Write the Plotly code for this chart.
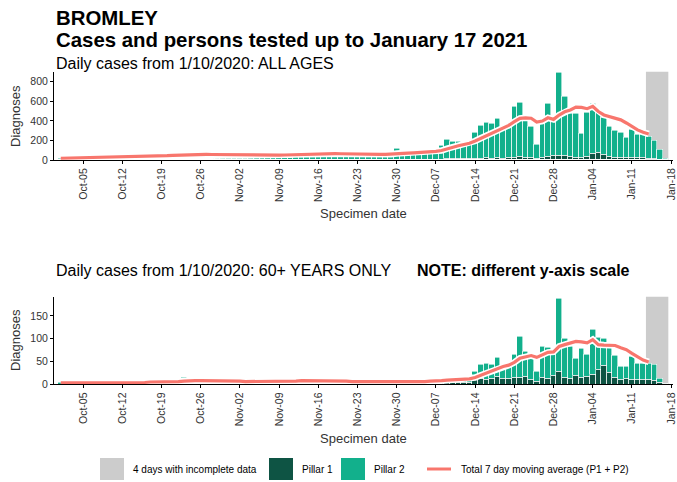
import pandas as pd
import plotly.graph_objects as go

# ---------------- data ----------------
dates = pd.date_range("2020-10-01", "2021-01-17", freq="D")
incomplete_days = pd.date_range("2021-01-14", "2021-01-17", freq="D")
tick_dates = pd.date_range("2020-10-05", "2021-01-18", freq="7D")
tick_labels = [d.strftime("%b-%d") for d in tick_dates]

# ALL AGES
all_p1 = [2,3,2,2,3,3,2,3,3,2,2,3,3,4,3,4,3,3,4,4,5,5,4,4,4,5,5,4,4,4,3,
          3,4,4,3,4,4,3,3,4,5,4,5,5,4,5,6,5,5,5,4,4,4,4,5,4,5,5,4,5,6,
          5,5,6,6,5,6,7,8,10,9,10,9,10,15,18,20,18,22,18,20,28,32,25,22,12,28,38,48,45,48,30,
          28,22,38,60,70,50,35,28,22,20,22,20,20,18,15,8,2]
all_p2 = [13,15,12,14,19,22,22,25,27,24,22,27,32,34,33,36,32,31,38,48,50,53,56,51,50,57,55,52,48,46,42,
          37,41,44,41,42,46,42,39,51,53,52,57,60,56,57,66,65,63,60,54,48,46,51,53,50,55,57,54,55,112,
          70,67,79,76,73,79,93,142,195,179,178,161,170,260,329,362,350,403,312,330,512,553,395,318,141,372,540,377,845,600,440,
          442,245,447,520,425,382,310,267,253,205,288,235,235,222,185,102,16]
all_ma = [18,19,20,21,22,23,24,25,26,27,28,30,32,34,36,37,38,39,41,44,47,50,52,53,54,56,57,56,55,53,51,
          49,48,47,46,46,46,46,47,49,51,53,55,58,60,62,64,66,67,66,64,62,60,58,56,56,56,57,58,59,66,
          68,70,73,76,78,82,88,97,115,131,146,158,171,194,222,247,273,307,330,354,392,426,431,427,388,398,431,415,459,492,511,
          540,537,524,548,495,460,445,425,410,378,342,308,283,266]

# 60+ YEARS
old_p1 = [0,1,1,0,1,1,0,1,1,1,0,1,1,1,1,1,1,1,2,1,2,1,2,1,2,1,2,2,1,2,1,
          1,1,2,1,1,1,2,1,2,1,2,2,2,1,2,2,2,1,1,1,1,1,1,1,1,1,1,1,1,2,
          1,2,2,1,2,2,3,3,3,3,4,3,4,10,13,10,13,17,13,13,15,15,17,10,6,15,13,18,28,15,13,
          18,15,17,22,32,40,25,15,10,12,10,10,11,10,8,3,1]
old_p2 = [3,1,3,3,1,3,3,1,2,3,3,1,3,4,3,5,4,5,5,5,6,6,13,5,6,6,6,7,5,5,4,
          5,4,4,6,4,5,5,4,10,5,5,6,7,7,7,8,6,6,5,4,3,4,3,4,5,4,5,4,5,5,
          5,5,6,5,5,7,7,8,10,9,10,10,11,18,30,35,31,41,26,28,50,90,55,51,22,67,67,52,159,85,69,
          39,63,47,97,71,60,55,48,28,26,51,36,34,35,34,10,1]
old_ma = [3,3,3,3,3,3,3,3,3,3,3,3,3,4,4,4,5,5,5,6,6,6,7,8,8,8,8,8,8,8,7,
          7,7,6,6,6,6,6,6,7,7,7,7,8,8,8,8,8,8,8,7,7,6,6,6,5,5,5,5,5,6,
          6,6,6,6,6,7,7,8,9,10,11,11,12,15,20,24,29,35,39,42,48,57,60,63,59,65,70,71,83,87,90,
          94,93,91,98,87,86,86,85,80,76,68,60,53,49]

ma_dates = dates[:len(all_ma)]

# ---------------- style ----------------
FONT = "Liberation Sans, Arial, sans-serif"
C_P1 = "#0E5444"
C_P2 = "#12B08C"
C_MA = "#F8766D"
C_GREY = "#CCCCCC"
W, H = 677, 482
L_PX, R_PX = 54, 673


def py(px):
    return 1 - px / H


def pxx(px):
    return (px - L_PX) / (R_PX - L_PX)


fig = go.Figure()

day_ms = 86400000
for xa, ya, p1, p2, ma in (("x", "y", all_p1, all_p2, all_ma),
                           ("x2", "y2", old_p1, old_p2, old_ma)):
    fig.add_trace(go.Bar(x=dates, y=p1, width=day_ms, marker=dict(color=C_P1, line=dict(color="white", width=0.6)),
                         xaxis=xa, yaxis=ya, showlegend=False, name="Pillar 1"))
    fig.add_trace(go.Bar(x=dates, y=p2, width=day_ms, marker=dict(color=C_P2, line=dict(color="white", width=0.6)),
                         xaxis=xa, yaxis=ya, showlegend=False, name="Pillar 2"))
    fig.add_trace(go.Scatter(x=ma_dates, y=ma, mode="lines", line=dict(color="white", width=6.5),
                             xaxis=xa, yaxis=ya, showlegend=False, hoverinfo="skip"))
    fig.add_trace(go.Scatter(x=ma_dates, y=ma, mode="lines", line=dict(color=C_MA, width=3.2),
                             xaxis=xa, yaxis=ya, showlegend=False, name="7 day average"))

# incomplete data shading
half = pd.Timedelta(hours=12)
for xr, yr in (("x", "y domain"), ("x2", "y2 domain")):
    fig.add_shape(type="rect", xref=xr, yref=yr, x0=incomplete_days[0] - half, x1=incomplete_days[-1] + half,
                  y0=0, y1=1, fillcolor=C_GREY, line=dict(width=0), layer="below")

x_range = [pd.Timestamp("2020-09-29 19:00"), pd.Timestamp("2021-01-18 08:00")]
xcommon = dict(type="date", range=x_range, tickmode="array", tickvals=tick_dates, ticktext=tick_labels,
               tickangle=-90, tickfont=dict(size=10.5, color="#333333", family=FONT), showline=True,
               linecolor="black", linewidth=1, ticks="outside", ticklen=3, tickcolor="black",
               showgrid=False, zeroline=False, automargin=False)
ycommon = dict(showline=True, linecolor="black", linewidth=1, ticks="outside", ticklen=3, tickcolor="black",
               showgrid=False, zeroline=False, automargin=False,
               tickfont=dict(size=10.5, color="#333333", family=FONT))

fig.update_layout(
    width=W, height=H, margin=dict(l=L_PX, r=W - R_PX, t=0, b=0, autoexpand=False),
    paper_bgcolor="white", plot_bgcolor="white", barmode="stack", bargap=0,
    font=dict(family=FONT, color="black"),
    xaxis=dict(domain=[0, 1], anchor="y", **xcommon),
    yaxis=dict(domain=[py(160), py(71.7)], anchor="x", range=[0, 902], tickvals=[0, 200, 400, 600, 800], **ycommon),
    xaxis2=dict(domain=[0, 1], anchor="y2", **xcommon),
    yaxis2=dict(domain=[py(384.3), py(296.7)], anchor="x2", range=[0, 192], tickvals=[0, 50, 100, 150], **ycommon),
)

ann = []


def text(x, y, s, size, anchor="left", angle=0, color="black"):
    ann.append(dict(xref="paper", yref="paper", x=x, y=y, text=s, showarrow=False, xanchor=anchor,
                    yanchor="middle", textangle=angle, font=dict(size=size, color=color, family=FONT)))


text(pxx(54), py(18), "<b>BROMLEY</b>", 20.4)
text(pxx(54), py(40), "<b>Cases and persons tested up to January 17 2021</b>", 20.4)
text(pxx(54), py(64), "Daily cases from 1/10/2020: ALL AGES", 16)
text(pxx(54), py(270), "Daily cases from 1/10/2020: 60+ YEARS ONLY", 16)
text(pxx(415), py(270), "<b>NOTE: different y-axis scale</b>", 16)
text(0.5, py(213), "Specimen date", 13, anchor="center", color="#333333")
text(0.5, py(438), "Specimen date", 13, anchor="center", color="#333333")
text(pxx(15), py(116), "Diagnoses", 13, anchor="center", angle=-90, color="#333333")
text(pxx(15), py(340), "Diagnoses", 13, anchor="center", angle=-90, color="#333333")

# legend
ly = py(469)
for x0, x1, col in ((100, 124, C_GREY), (269, 293, C_P1), (341, 365, C_P2)):
    fig.add_shape(type="rect", xref="paper", yref="paper", x0=pxx(x0), x1=pxx(x1), y0=py(480), y1=py(458),
                  fillcolor=col, line=dict(width=0))
fig.add_shape(type="line", xref="paper", yref="paper", x0=pxx(427), x1=pxx(451), y0=ly, y1=ly,
              line=dict(color=C_MA, width=3))
text(pxx(131), ly, "4 days with incomplete data", 10)
text(pxx(300), ly, "Pillar 1", 10)
text(pxx(372), ly, "Pillar 2", 10)
text(pxx(459), ly, "Total 7 day moving average (P1 + P2)", 10)

fig.update_layout(annotations=ann)
fig.write_html("out.html", config={"displayModeBar": False},
               post_script="document.body.style.margin='0px';")
